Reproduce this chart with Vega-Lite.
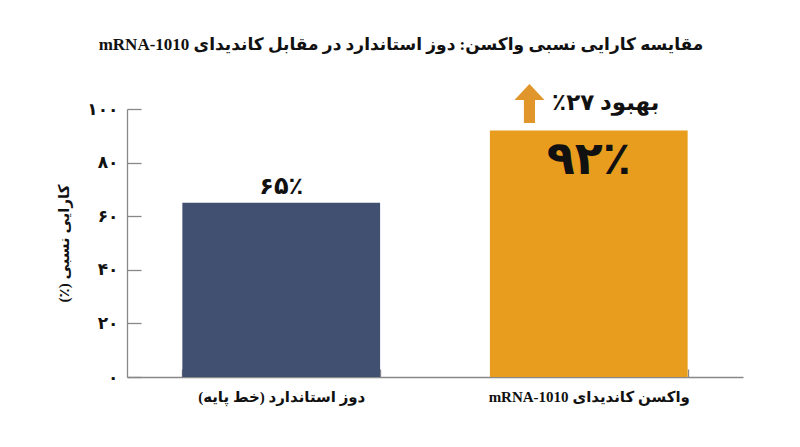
{
  "$schema": "https://vega.github.io/schema/vega-lite/v6.json",
  "width": 616,
  "height": 268,
  "autosize": {"type": "none"},
  "padding": {"left": 127, "top": 109, "right": 57, "bottom": 70},
  "title": {
    "text": "\u202bمقایسه کارایی نسبی واکسن: دوز استاندارد در مقابل کاندیدای mRNA-1010\u202c",
    "fontSize": 17,
    "fontWeight": "bold",
    "font": "Liberation Serif, DejaVu Sans",
    "color": "#111111",
    "anchor": "middle",
    "dx": -34,
    "offset": 30
  },
  "datasets": {
    "bars": [
      {"category": "\u202bدوز استاندارد (خط پایه)\u202c", "value": 65, "label": "۶۵٪"},
      {"category": "\u202bواکسن کاندیدای mRNA-1010\u202c", "value": 92, "label": "۹۲٪"}
    ],
    "gain": [
      {"category": "\u202bواکسن کاندیدای mRNA-1010\u202c", "arrow_y": 102.05, "text_y": 102.2, "note": "\u202bبهبود ۲۷٪\u202c"}
    ]
  },
  "layer": [
    {
      "data": {"name": "bars"},
      "mark": {"type": "bar"},
      "encoding": {
        "x": {
          "field": "category",
          "type": "nominal",
          "sort": null,
          "scale": {"paddingInner": 0.357, "paddingOuter": 0.18},
          "axis": {
            "title": null,
            "labelAngle": 0,
            "labelLimit": 0,
            "tickBand": "extent",
            "tickSize": -8,
            "labelPadding": 20,
            "labelFontSize": 15,
            "labelFontWeight": "bold",
            "labelColor": "#111111"
          }
        },
        "y": {
          "field": "value",
          "type": "quantitative",
          "scale": {"domain": [0, 100]},
          "axis": {
            "title": "\u202bکارایی نسبی (٪)\u202c",
            "values": [0, 20, 40, 60, 80, 100],
            "labelExpr": "datum.value == 0 ? '۰' : datum.value == 20 ? '۲۰' : datum.value == 40 ? '۴۰' : datum.value == 60 ? '۶۰' : datum.value == 80 ? '۸۰' : '۱۰۰'",
            "tickSize": -14,
            "labelPadding": 23,
            "labelFontSize": 17,
            "labelFontWeight": "bold",
            "labelColor": "#111111",
            "titleFontSize": 15,
            "titleFontWeight": "bold",
            "titleColor": "#111111",
            "titlePadding": 15,
            "grid": false
          }
        },
        "color": {
          "field": "category",
          "type": "nominal",
          "scale": {"range": ["#414f70", "#e99d1f"]},
          "legend": null
        }
      }
    },
    {
      "data": {"name": "bars"},
      "transform": [{"filter": "datum.value < 80"}],
      "mark": {"type": "text", "fontSize": 24, "fontWeight": "bold", "color": "#111111", "baseline": "middle", "dy": -16},
      "encoding": {
        "x": {"field": "category", "type": "nominal", "sort": null},
        "y": {"field": "value", "type": "quantitative"},
        "text": {"field": "label"}
      }
    },
    {
      "data": {"name": "bars"},
      "transform": [{"filter": "datum.value >= 80"}],
      "mark": {"type": "text", "fontSize": 46, "fontWeight": "bold", "color": "#111111", "baseline": "middle", "dy": 30},
      "encoding": {
        "x": {"field": "category", "type": "nominal", "sort": null},
        "y": {"field": "value", "type": "quantitative"},
        "text": {"field": "label"}
      }
    },
    {
      "data": {"name": "gain"},
      "mark": {
        "type": "point",
        "shape": "M0,-1.3L1,-0.23L0.37,-0.23L0.37,1.3L-0.37,1.3L-0.37,-0.23L-1,-0.23Z",
        "size": 900,
        "filled": true,
        "opacity": 1,
        "strokeWidth": 0,
        "color": "#e0962a"
      },
      "encoding": {
        "x": {"field": "category", "type": "nominal", "sort": null, "bandPosition": 0.2},
        "y": {"field": "arrow_y", "type": "quantitative"}
      }
    },
    {
      "data": {"name": "gain"},
      "mark": {"type": "text", "fontSize": 23, "fontWeight": "bold", "color": "#111111", "baseline": "middle"},
      "encoding": {
        "x": {"field": "category", "type": "nominal", "sort": null, "bandPosition": 0.586},
        "y": {"field": "text_y", "type": "quantitative"},
        "text": {"field": "note"}
      }
    }
  ],
  "config": {
    "view": {"stroke": null},
    "font": "Liberation Serif, DejaVu Sans",
    "axis": {
      "domainColor": "#888888",
      "tickColor": "#888888",
      "domainWidth": 1.3,
      "tickWidth": 1.3,
      "labelFont": "Liberation Serif, DejaVu Sans",
      "titleFont": "Liberation Serif, DejaVu Sans"
    },
    "text": {"font": "Liberation Serif, DejaVu Sans"}
  }
}
